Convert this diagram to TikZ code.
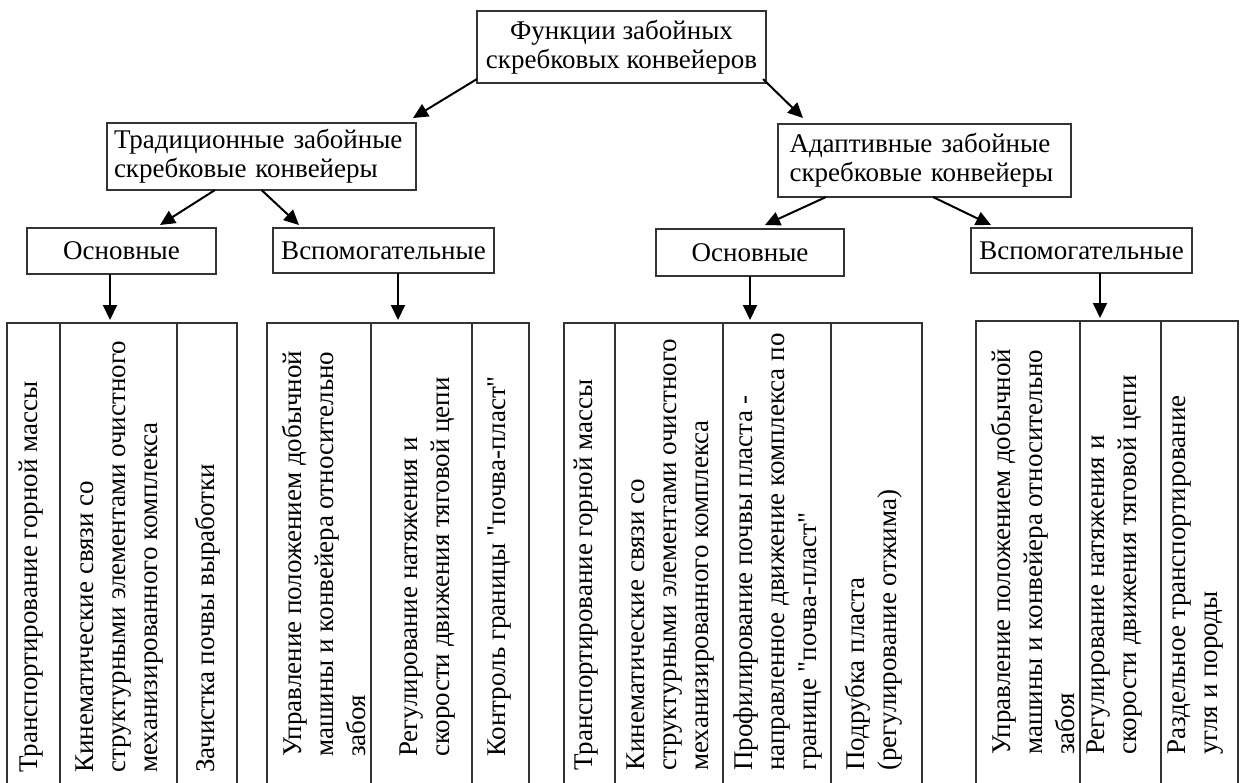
\documentclass[tikz,border=0pt]{standalone}
\usepackage{fontspec}
\setmainfont{Liberation Serif}
\newfontfamily\qfont{Liberation Serif}
\usetikzlibrary{arrows.meta,calc}
\newcommand\hdfont{\fontsize{27}{29}\selectfont}
\newcommand\vtfont{\fontsize{27}{32}\selectfont}
\newcommand\sq{{\qfont"}}
\begin{document}
\begin{tikzpicture}[x=1pt,y=-1pt,
  box/.style={draw=black!80, line width=1.3pt, inner sep=0pt, outer sep=0pt, font=\hdfont, align=center},
  lbox/.style={box, align=left, minimum height=#1},
  cell/.style={draw=black!80, line width=1.4pt, anchor=north west, inner sep=0pt, outer sep=0pt, minimum height=520pt},
  vtext/.style={rotate=90, anchor=west, align=left, inner sep=0pt, font=\vtfont},
  arr/.style={line width=2pt, -{Triangle[length=15pt,width=14pt]}}]
\useasboundingbox (0,0) rectangle (1241,782);
\clip (0,0) rectangle (1241,782);
\fill[white] (0,0) rectangle (1241,782);

% headings
\node[box, minimum width=289pt, minimum height=72pt] (top) at (621.5,47) {Функции забойных\\скребковых конвейеров};
\node[lbox=67pt, text width=295pt, inner xsep=7pt] (trad) at (261.5,156.5) {\mbox{Традиционные забойные}\\\mbox{скребковые конвейеры}};
\node[lbox=73pt, text width=270pt, inner xsep=11.5pt] (adapt) at (924.5,160.5) {\mbox{Адаптивные забойные}\\\mbox{скребковые конвейеры}};
\node[box, minimum width=189pt, minimum height=46pt] (osn1) at (121.5,251) {Основные};
\node[box, minimum width=221pt, minimum height=45pt] (vsp1) at (383.5,250.5) {Вспомогательные};
\node[box, minimum width=188pt, minimum height=47pt] (osn2) at (750,252.5) {Основные};
\node[box, minimum width=221pt, minimum height=45pt] (vsp2) at (1081.5,250.5) {Вспомогательные};

% table 1
\node[cell, minimum width=53pt] (t1a) at (7,323) {};
\node[cell, minimum width=117pt] (t1b) at (60,323) {};
\node[cell, minimum width=60pt] (t1c) at (177,323) {};
% table 2
\node[cell, minimum width=104pt] (t2a) at (267,323) {};
\node[cell, minimum width=101pt] (t2b) at (371,323) {};
\node[cell, minimum width=57pt] (t2c) at (472,323) {};
% table 3
\node[cell, minimum width=51pt] (t3a) at (564,323) {};
\node[cell, minimum width=108pt] (t3b) at (615,323) {};
\node[cell, minimum width=108pt] (t3c) at (723,323) {};
\node[cell, minimum width=91pt] (t3d) at (831,323) {};
% table 4
\node[cell, minimum width=104pt] (t4a) at (976,321) {};
\node[cell, minimum width=81pt] (t4b) at (1080,321) {};
\node[cell, minimum width=77pt] (t4c) at (1161,321) {};

% cell texts
\node[vtext] (t1at) at (31,773) {Транспортирование горной массы};
\node[vtext] (t1bt) at (120,773) {Кинематические связи со\\структурными элементами очистного\\механизированного комплекса};
\node[vtext] (t1ct) at (208,773) {Зачистка почвы выработки};

\node[vtext] (t2at) at (324,757) {Управление положением добычной\\машины и конвейера относительно\\забоя};
\node[vtext] (t2bt) at (427.5,757) {Регулирование натяжения и\\скорости движения тяговой цепи};
\node[vtext] (t2ct) at (500,757) {Контроль границы \sq почва-пласт\sq};

\node[vtext] (t3at) at (586,771) {Транспортирование горной массы};
\node[vtext] (t3bt) at (671,771) {Кинематические связи со\\структурными элементами очистного\\механизированного комплекса};
\node[vtext] (t3ct) at (778,771) {Профилирование почвы пласта -\\направленное движение комплекса по\\границе \sq почва-пласт\sq};
\node[vtext] (t3dt) at (874,771) {Подрубка пласта\\(регулирование отжима)};

\node[vtext] (t4at) at (1033,755) {Управление положением добычной\\машины и конвейера относительно\\забоя};
\node[vtext] (t4bt) at (1115,755) {Регулирование натяжения и\\скорости движения тяговой цепи};
\node[vtext] (t4ct) at (1195.5,755) {Раздельное транспортирование\\угля и породы};

% connectors
\draw[arr] ([yshift=4pt]top.south west) -- ($(trad.north east)+(-3,-5)$);
\draw[arr] ([xshift=-3pt,yshift=4pt]top.south east) -- ($(adapt.north west)+(25,-6)$);
\draw[arr] ($(trad.south)+(-46.5,0)$) -- ($(osn1.north)+(38.5,-3)$);
\draw[arr] (trad.south) -- ($(vsp1.north west)+(26,-3)$);
\draw[arr] ($(adapt.south)+(-98.5,0)$) -- ($(osn2.north)+(15,-4)$);
\draw[arr] ($(adapt.south)+(8.5,0)$) -- ($(vsp2.north west)+(20,-3)$);

\coordinate (d1) at (110,320);
\coordinate (d2) at (398,320);
\coordinate (d3) at (750,320);
\coordinate (d4) at (1100,318);
\draw[arr] (osn1.south -| d1) -- (d1);
\draw[arr] (vsp1.south -| d2) -- (d2);
\draw[arr] (osn2.south -| d3) -- (d3);
\draw[arr] (vsp2.south -| d4) -- (d4);
\end{tikzpicture}
\end{document}
